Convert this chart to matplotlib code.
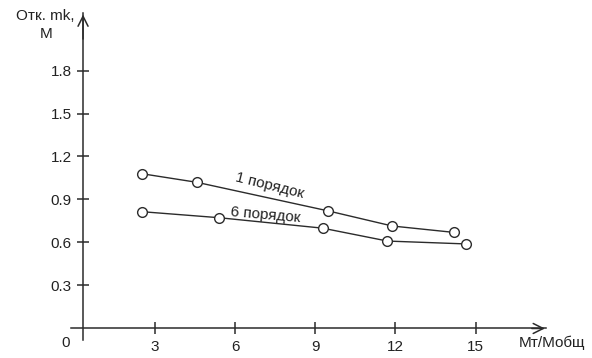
import matplotlib.pyplot as plt

plt.rcParams['font.family'] = ['Liberation Sans', 'DejaVu Sans']

# Mт/Мобщ по оси x, отклонение по оси y
x_1 = [2.5, 4.56, 9.49, 11.88, 14.21]
y_1 = [1.08, 1.02, 0.82, 0.715, 0.67]
x_6 = [2.5, 5.39, 9.27, 11.70, 14.63]
y_6 = [0.815, 0.773, 0.70, 0.61, 0.59]

ticks_x = [3, 6, 9, 12, 15]
ticks_y = [0.3, 0.6, 0.9, 1.2, 1.5, 1.8]

fig = plt.figure(figsize=(5.92, 3.58), dpi=100)
ax = fig.add_axes([0, 0, 1, 1])
ax.set_xlim(-2.81, 19.36)
ax.set_ylim(-0.206, 2.292)

cor = '#2b2b2b'
txt = '#222222'
fs = 11
ax.plot(x_1, y_1, color=cor, lw=1, marker='o', ms=7, mfc='white', mec=cor, mew=1, zorder=3)
ax.plot(x_6, y_6, color=cor, lw=1, marker='o', ms=7, mfc='white', mec=cor, mew=1, zorder=3)

# eixos com setas
for s in ['top', 'right']:
    ax.spines[s].set_visible(False)
ax.spines['left'].set_position(('data', 0.3))
ax.spines['bottom'].set_position(('data', 0))
ax.spines['left'].set_bounds(-0.08, 2.2)
ax.spines['bottom'].set_bounds(-0.15, 17.65)
for s in ['left', 'bottom']:
    ax.spines[s].set_color(cor)
    ax.spines[s].set_linewidth(1.1)
ax.annotate('', xy=(17.7, 0), xytext=(17.0, 0),
            arrowprops=dict(arrowstyle='->', color=cor, lw=1.1, mutation_scale=18))
ax.annotate('', xy=(0.3, 2.21), xytext=(0.3, 2.0),
            arrowprops=dict(arrowstyle='->', color=cor, lw=1.1, mutation_scale=18))

ax.set_xticks(ticks_x)
ax.set_xticklabels([str(t) for t in ticks_x])
ax.set_yticks(ticks_y)
ax.set_yticklabels([f'{t:.1f}' for t in ticks_y])
ax.tick_params(direction='inout', length=8.6, width=1.1, color=cor,
               labelsize=fs, labelcolor=txt)
ax.tick_params(axis='x', pad=4)
ax.tick_params(axis='y', pad=4)

ax.text(-0.35, -0.1, '0', ha='center', va='center', fontsize=fs, color=txt)
ax.text(-1.1, 2.12, 'Отк. mk,\nМ', ha='center', va='center', fontsize=fs,
        color=txt, linespacing=1.35)
ax.text(19.1, -0.1, 'Мт/Мобщ', ha='right', va='center', fontsize=fs, color=txt)

ax.text(7.30, 0.994, '1 порядок', ha='center', va='center', fontsize=fs,
        rotation=-14, color=txt)
ax.text(7.15, 0.79, '6 порядок', ha='center', va='center', fontsize=fs,
        rotation=-5, color=txt)

fig.savefig('out.png', dpi=100)
